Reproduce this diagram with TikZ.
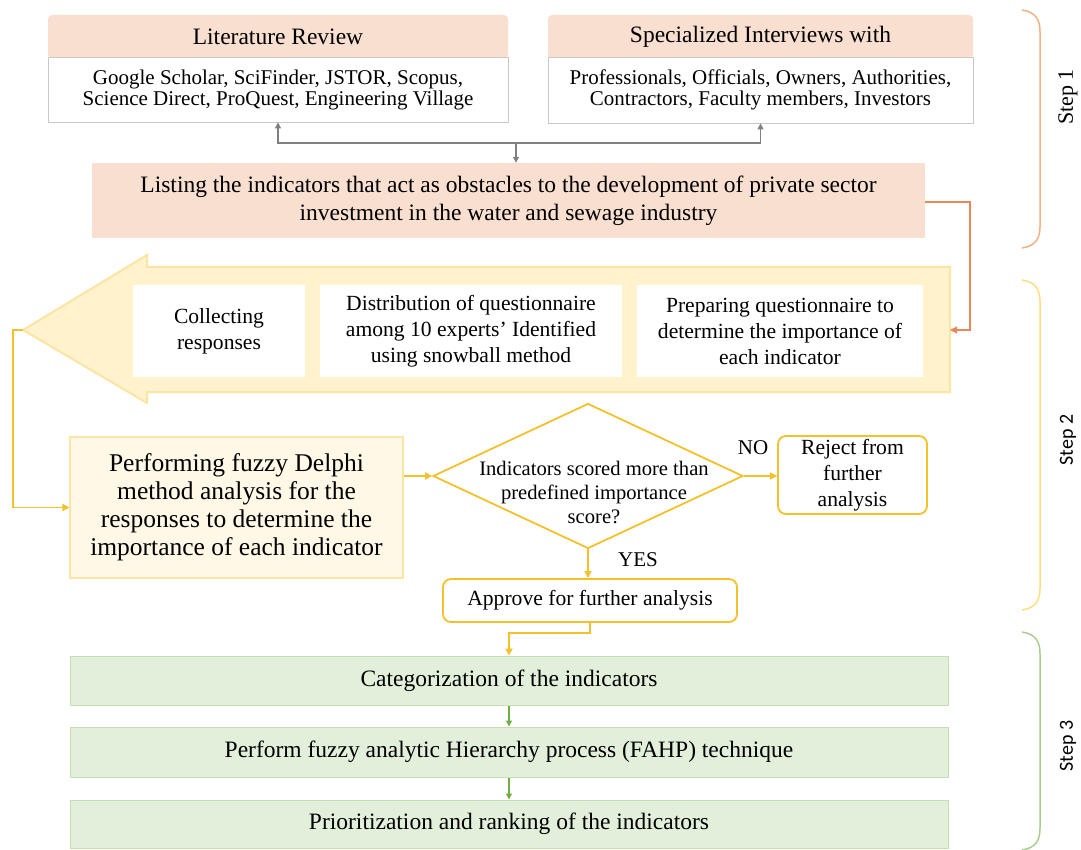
\documentclass[tikz,border=0pt]{standalone}
\usepackage{fontspec}
\setmainfont{Liberation Serif}
\newfontfamily\calib{Carlito}
\usetikzlibrary{shapes.geometric,arrows.meta}
\definecolor{salmon}{HTML}{F9DFCF}
\definecolor{lgray}{HTML}{C8C8C8}
\definecolor{dgray}{HTML}{808080}
\definecolor{oline}{HTML}{E8875A}
\definecolor{obrk}{HTML}{F4B183}
\definecolor{yfill}{HTML}{FFF2CC}
\definecolor{yedge}{HTML}{FCE4A2}
\definecolor{pfill}{HTML}{FFF8E7}
\definecolor{gold}{HTML}{F4C12B}
\definecolor{ybrk}{HTML}{FFDD80}
\definecolor{gfill}{HTML}{E2EFDA}
\definecolor{gedge}{HTML}{C5DFB2}
\definecolor{garr}{HTML}{70AD47}
\definecolor{gbrk}{HTML}{A9CD8F}
\begin{document}
\begin{tikzpicture}[x=1pt,y=-1pt,
  every node/.style={inner sep=0pt, align=center, text=black},
  hdr/.style={fill=salmon, rounded corners=4pt, font=\fontsize{23.5}{26}\selectfont},
  body/.style={fill=white, draw=lgray, line width=0.8pt, font=\fontsize{21}{21}\selectfont},
  wbox/.style={fill=white, font=\fontsize{21.6}{26}\selectfont},
  gryarr/.style={draw=dgray, line width=1.2pt, -{Triangle[length=6pt,width=6pt]}},
  ylarr/.style={draw=gold, line width=1.6pt, -{Triangle[length=7pt,width=7pt]}},
  rbox/.style={draw=gold, line width=1.8pt, rounded corners=8pt, fill=white, font=\fontsize{21.6}{26}\selectfont},
  grbox/.style={fill=gfill, draw=gedge, line width=1pt, minimum width=878pt, font=\fontsize{23.5}{26}\selectfont},
  grarr/.style={draw=garr, line width=1.1pt, -{Triangle[length=6pt,width=6pt]}},
  brk/.style={line width=1.5pt}
]
\useasboundingbox (0,0) rectangle (1081,850);

% ---------- Step 1 ----------
\node[hdr, minimum width=460pt, minimum height=44pt] (lith) at (278,37) {Literature Review};
\node[body, minimum width=460pt, minimum height=65pt] (litb) at (278,89.5)
  {Google Scholar, SciFinder, JSTOR, Scopus,\\Science Direct, ProQuest, Engineering Village};
\node[hdr, minimum width=425pt, minimum height=44pt] (spech) at (760.5,37) {Specialized Interviews with};
\node[body, minimum width=425pt, minimum height=66pt] (specb) at (760.5,90)
  {Professionals, Officials, Owners, Authorities,\\Contractors, Faculty members, Investors};
\node[fill=salmon, minimum width=833pt, minimum height=75pt, font=\fontsize{23.5}{28}\selectfont] (list) at (508.5,200.5)
  {Listing the indicators that act as obstacles to the development of private sector\\investment in the water and sewage industry};

\coordinate (j) at (516,143);
\draw[draw=dgray, line width=1.2pt] (litb.south) ++(0,21) -- (specb.south |- j);
\draw[gryarr] (j) -| (litb.south);
\draw[gryarr] (j) -| (specb.south);
\draw[gryarr] (j) -- (list.north -| j);

% ---------- Step 2 : big arrow ----------
\coordinate (arrR) at (950,330);
\coordinate (arrT) at (23,330);
\fill[yfill] (950,267) -- (147,267) -- (147,255) -- (arrT) -- (147,403) -- (147,392) -- (950,392) -- cycle;
\draw[yedge, line width=2pt, line join=miter] (950,267) -- (147,267) -- (147,255) -- (arrT) -- (147,403) -- (147,392) -- (950,392) -- cycle;

\node[wbox, minimum width=172pt, minimum height=92pt] (coll) at (219,331) {Collecting\\responses};
\node[wbox, minimum width=302pt, minimum height=92pt] (dist) at (471,331)
  {Distribution of questionnaire\\among 10 experts’ Identified\\using snowball method};
\node[wbox, minimum width=286pt, minimum height=92pt] (prep) at (780,331)
  {Preparing questionnaire to\\determine the importance of\\each indicator};

\coordinate (oc) at (970,202);
\draw[draw=oline, line width=1.2pt, -{Triangle[length=7pt,width=7pt]}] (list.east |- oc) -- (oc) |- (arrR);

\node[fill=pfill, draw=yedge, line width=1.2pt, minimum width=333pt, minimum height=141pt,
  font=\fontsize{25.5}{28}\selectfont] (perf) at (236.5,507.5)
  {Performing fuzzy Delphi\\method analysis for the\\responses to determine the\\importance of each indicator};

\draw[ylarr] (arrT) -- (13,330) |- (perf.west);

\node[diamond, draw=gold, line width=1.8pt, fill=white, minimum width=310pt, minimum height=145pt] (dia) at (588,476)
  {\smash{\makebox[0pt]{\hspace{12pt}\raisebox{-24pt}{\fontsize{20.6}{24}\selectfont\begin{tabular}{@{}c@{}}Indicators scored more than\\predefined importance\\score?\end{tabular}}}}};

\node[rbox, minimum width=149pt, minimum height=78pt] (rej) at (852.5,475) {Reject from\\further\\analysis};
\node[rbox, minimum width=294pt, minimum height=43pt] (appr) at (590,600.5) {Approve for further analysis};

\draw[ylarr] (dia.west -| perf.east) -- (dia.west);
\draw[ylarr] (dia.east) -- (rej.west |- dia.east);
\draw[ylarr] (dia.south) -- (appr.north -| dia.south);
\node[font=\fontsize{21}{22}\selectfont] (no) at (753,448) {NO};
\node[font=\fontsize{21}{22}\selectfont] (yes) at (638,560) {YES};

% ---------- Step 3 ----------
\node[grbox, minimum height=49pt] (cat) at (509,680.5) {Categorization of the indicators};
\node[grbox, minimum height=50pt] (fahp) at (509,752) {Perform fuzzy analytic Hierarchy process (FAHP) technique};
\node[grbox, minimum height=48pt] (prio) at (509,824) {Prioritization and ranking of the indicators};

\draw[ylarr] (appr.south) -- ++(0,10) -| (cat.north);
\draw[grarr] (cat.south) -- (fahp.north);
\draw[grarr] (fahp.south) -- (prio.north);

% ---------- Brackets ----------
\draw[brk, obrk] (1022,10) .. controls (1036,12) and (1040,20) .. (1040,32) -- (1040,226) .. controls (1040,238) and (1036,246) .. (1022,248);
\draw[brk, ybrk] (1022,280) .. controls (1036,282) and (1040,290) .. (1040,302) -- (1040,588) .. controls (1040,600) and (1036,608) .. (1022,610);
\draw[brk, gbrk] (1022,632) .. controls (1036,634) and (1040,642) .. (1040,654) -- (1040,828) .. controls (1040,840) and (1036,848) .. (1022,850);

\node[rotate=90, font=\fontsize{22}{24}\selectfont] (s1) at (1068,97) {Step 1};
\node[rotate=90, font=\calib\fontsize{20}{22}\selectfont] (s2) at (1068,440) {Step 2};
\node[rotate=90, font=\calib\fontsize{20}{22}\selectfont] (s3) at (1068,746) {Step 3};
\end{tikzpicture}
\end{document}
